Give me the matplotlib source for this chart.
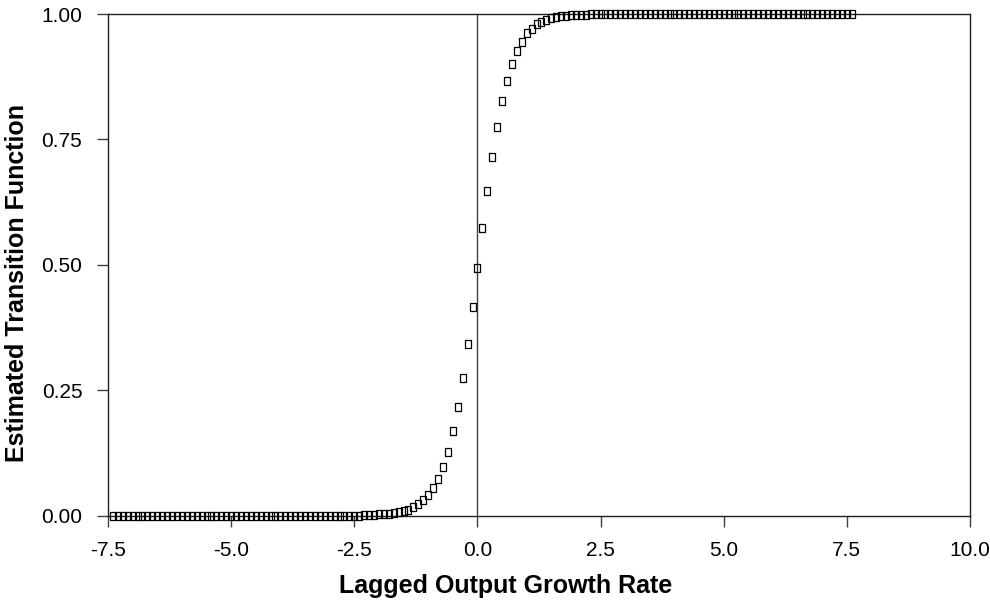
import numpy as np
import matplotlib
matplotlib.use("Agg")
import matplotlib.pyplot as plt

plt.rcParams['font.family'] = ['Liberation Sans', 'DejaVu Sans']

# lagged output growth rate (x) and estimated transition function (y)
growth_rate = [
    -7.4, -7.3, -7.2, -7.1, -7.0, -6.9, -6.8, -6.7, -6.6, -6.5,
    -6.4, -6.3, -6.2, -6.1, -6.0, -5.9, -5.8, -5.7, -5.6, -5.5,
    -5.4, -5.3, -5.2, -5.1, -5.0, -4.9, -4.8, -4.7, -4.6, -4.5,
    -4.4, -4.3, -4.2, -4.1, -4.0, -3.9, -3.8, -3.7, -3.6, -3.5,
    -3.4, -3.3, -3.2, -3.1, -3.0, -2.9, -2.8, -2.7, -2.6, -2.5,
    -2.4, -2.3, -2.2, -2.1, -2.0, -1.9, -1.8, -1.7, -1.6, -1.5,
    -1.4, -1.3, -1.2, -1.1, -1.0, -0.9, -0.8, -0.7, -0.6, -0.5,
    -0.4, -0.3, -0.2, -0.1, 0.0, 0.1, 0.2, 0.3, 0.4, 0.5,
    0.6, 0.7, 0.8, 0.9, 1.0, 1.1, 1.2, 1.3, 1.4, 1.5,
    1.6, 1.7, 1.8, 1.9, 2.0, 2.1, 2.2, 2.3, 2.4, 2.5,
    2.6, 2.7, 2.8, 2.9, 3.0, 3.1, 3.2, 3.3, 3.4, 3.5,
    3.6, 3.7, 3.8, 3.9, 4.0, 4.1, 4.2, 4.3, 4.4, 4.5,
    4.6, 4.7, 4.8, 4.9, 5.0, 5.1, 5.2, 5.3, 5.4, 5.5,
    5.6, 5.7, 5.8, 5.9, 6.0, 6.1, 6.2, 6.3, 6.4, 6.5,
    6.6, 6.7, 6.8, 6.9, 7.0, 7.1, 7.2, 7.3, 7.4, 7.5,
    7.6,
]
transition = [
    0.000, 0.000, 0.000, 0.000, 0.000, 0.000, 0.000, 0.000, 0.000, 0.000,
    0.000, 0.000, 0.000, 0.000, 0.000, 0.000, 0.000, 0.000, 0.000, 0.000,
    0.000, 0.000, 0.000, 0.000, 0.000, 0.000, 0.000, 0.000, 0.000, 0.000,
    0.000, 0.000, 0.000, 0.000, 0.000, 0.000, 0.000, 0.000, 0.000, 0.000,
    0.000, 0.000, 0.000, 0.000, 0.000, 0.000, 0.000, 0.000, 0.000, 0.000,
    0.000, 0.001, 0.001, 0.001, 0.002, 0.002, 0.003, 0.004, 0.006, 0.008,
    0.011, 0.016, 0.023, 0.030, 0.041, 0.054, 0.073, 0.097, 0.127, 0.169,
    0.217, 0.275, 0.342, 0.416, 0.494, 0.573, 0.648, 0.715, 0.775, 0.827,
    0.867, 0.900, 0.926, 0.945, 0.962, 0.971, 0.980, 0.985, 0.989, 0.992,
    0.994, 0.996, 0.997, 0.998, 0.998, 0.999, 0.999, 1.000, 1.000, 1.000,
    1.000, 1.000, 1.000, 1.000, 1.000, 1.000, 1.000, 1.000, 1.000, 1.000,
    1.000, 1.000, 1.000, 1.000, 1.000, 1.000, 1.000, 1.000, 1.000, 1.000,
    1.000, 1.000, 1.000, 1.000, 1.000, 1.000, 1.000, 1.000, 1.000, 1.000,
    1.000, 1.000, 1.000, 1.000, 1.000, 1.000, 1.000, 1.000, 1.000, 1.000,
    1.000, 1.000, 1.000, 1.000, 1.000, 1.000, 1.000, 1.000, 1.000, 1.000,
    1.000,
]

x_ticks = [-7.5, -5.0, -2.5, 0.0, 2.5, 5.0, 7.5, 10.0]
y_ticks = [0.00, 0.25, 0.50, 0.75, 1.00]

fig = plt.figure(figsize=(9.9, 6.01), dpi=100)
ax = fig.add_axes([108 / 990, 1 - 515.5 / 601, 862 / 990, 501.5 / 601])

# tall hollow rectangle marker
rect = [(-0.72, -1), (0.72, -1), (0.72, 1), (-0.72, 1), (-0.72, -1)]
ax.plot(growth_rate, transition, linestyle='none', marker=rect, markersize=6,
        markerfacecolor='none', markeredgecolor='black', markeredgewidth=0.9,
        clip_on=False, zorder=3)

ax.axvline(0, color='#404040', linewidth=1, zorder=2)

ax.set_xlim(-7.5, 10.0)
ax.set_ylim(0, 1)
ax.set_xticks(x_ticks)
ax.set_xticklabels([f"{v:.1f}" for v in x_ticks])
ax.set_yticks(y_ticks)
ax.set_yticklabels([f"{v:.2f}" for v in y_ticks])
ax.tick_params(direction='out', length=8, width=1, labelsize=15, color='#404040')
ax.tick_params(axis='x', pad=10.5)
ax.tick_params(axis='y', pad=10.5)
for s in ax.spines.values():
    s.set_linewidth(1)
    s.set_color('#202020')

fig.text(506 / 990, 1 - 593 / 601, "Lagged Output Growth Rate",
         ha='center', va='baseline', fontsize=18, fontweight='bold')
fig.text(17 / 990, 1 - 283 / 601, "Estimated Transition Function", rotation=90,
         ha='center', va='center', fontsize=18, fontweight='bold')

fig.savefig("out.png", dpi=100)
